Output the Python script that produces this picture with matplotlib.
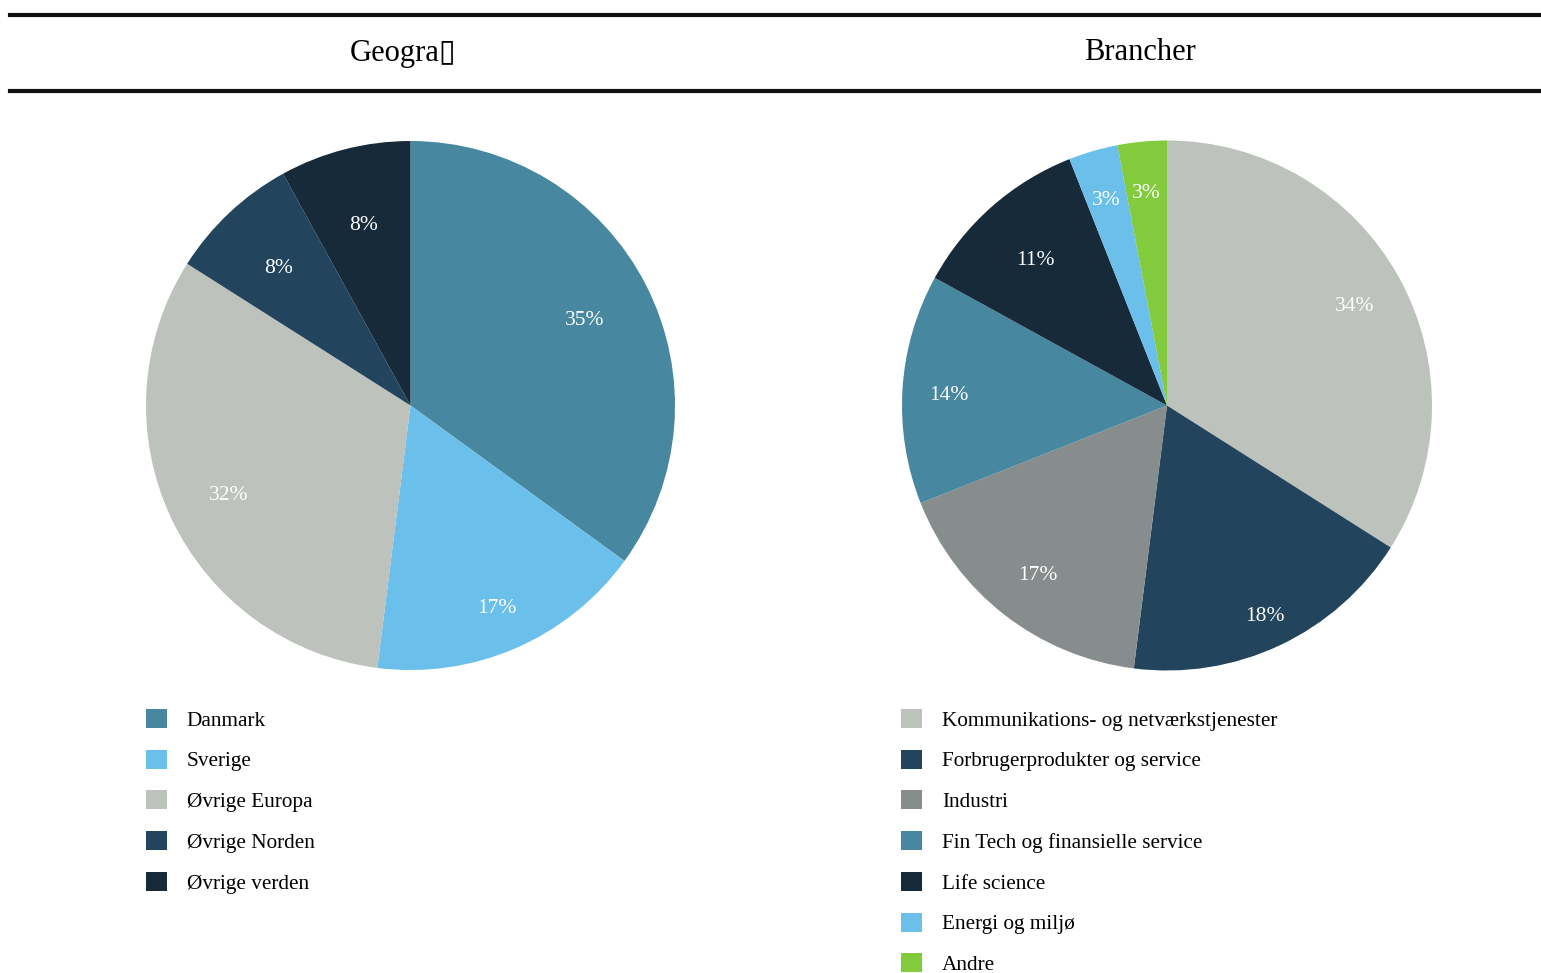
import matplotlib
matplotlib.use("Agg")
import numpy as np
import matplotlib.pyplot as plt
from matplotlib.patches import Patch
from matplotlib.lines import Line2D

plt.rcParams['font.family'] = ['Liberation Serif', 'DejaVu Sans']

# data
geo_title = 'Geogra\u25af'
geo_labels = ['Danmark', 'Sverige', 'Øvrige Europa', 'Øvrige Norden', 'Øvrige verden']
geo_values = [35, 17, 32, 8, 8]
geo_colors = ['#4787A0', '#6ABFEB', '#BEC2BD', '#22445C', '#172A3A']

br_title = 'Brancher'
br_labels = ['Kommunikations- og netværkstjenester', 'Forbrugerprodukter og service',
             'Industri', 'Fin Tech og finansielle service', 'Life science',
             'Energi og miljø', 'Andre']
br_values = [34, 18, 17, 14, 11, 3, 3]
br_colors = ['#BEC2BD', '#22445C', '#878D8C', '#4787A0', '#172A3A', '#6ABFEB', '#82CB3C']

# label distance from centre (fraction of radius), per slice
geo_pctdist = [0.74, 0.82, 0.76, 0.73, 0.72]
br_pctdist = [0.81, 0.865, 0.795, 0.825, 0.75, 0.82, 0.82]

W, H = 1541, 973
fig = plt.figure(figsize=(W / 100, H / 100), dpi=100)


def pie_axes(cx, cy, r):
    half = r * 1.05
    return fig.add_axes([(cx - half) / W, (H - cy - half) / H, 2 * half / W, 2 * half / H])


def draw(ax, values, colors, dists):
    wedges, _, autotexts = ax.pie(values, colors=colors, startangle=90, counterclock=False,
                                  autopct='%d%%',
                                  textprops=dict(color='white', fontsize=15.5),
                                  wedgeprops=dict(linewidth=0))
    for w, t, d in zip(wedges, autotexts, dists):
        ang = np.deg2rad((w.theta1 + w.theta2) / 2)
        t.set_position((d * np.cos(ang), d * np.sin(ang) - 0.015))
    ax.set_xlim(-1.05, 1.05)
    ax.set_ylim(-1.05, 1.05)
    ax.set_aspect('equal')
    ax.axis('off')


ax1 = pie_axes(410.5, 405.5, 264.5)
draw(ax1, geo_values, geo_colors, geo_pctdist)
ax2 = pie_axes(1167, 405.5, 265)
draw(ax2, br_values, br_colors, br_pctdist)


def legend(labels, colors, x, y):
    handles = [Patch(facecolor=c, edgecolor='none') for c in colors]
    fig.legend(handles, labels, loc='upper left', bbox_to_anchor=(x / W, 1 - y / H),
               frameon=False, fontsize=15.3, handlelength=1.0, handleheight=1.0,
               handletextpad=0.92, labelspacing=0.89, borderpad=0, borderaxespad=0)


legend(geo_labels, geo_colors, 146, 709)
legend(br_labels, br_colors, 901, 709)

# titles and rules
fig.text(403 / W, 1 - 53 / H, geo_title, ha='center', va='center', fontsize=22)
fig.text(1140 / W, 1 - 53 / H, br_title, ha='center', va='center', fontsize=22)
for y in (14.5, 90.5):
    fig.add_artist(Line2D([10 / W, 1], [1 - y / H, 1 - y / H], color='#111111', lw=3))

fig.savefig('out.png', dpi=100)
